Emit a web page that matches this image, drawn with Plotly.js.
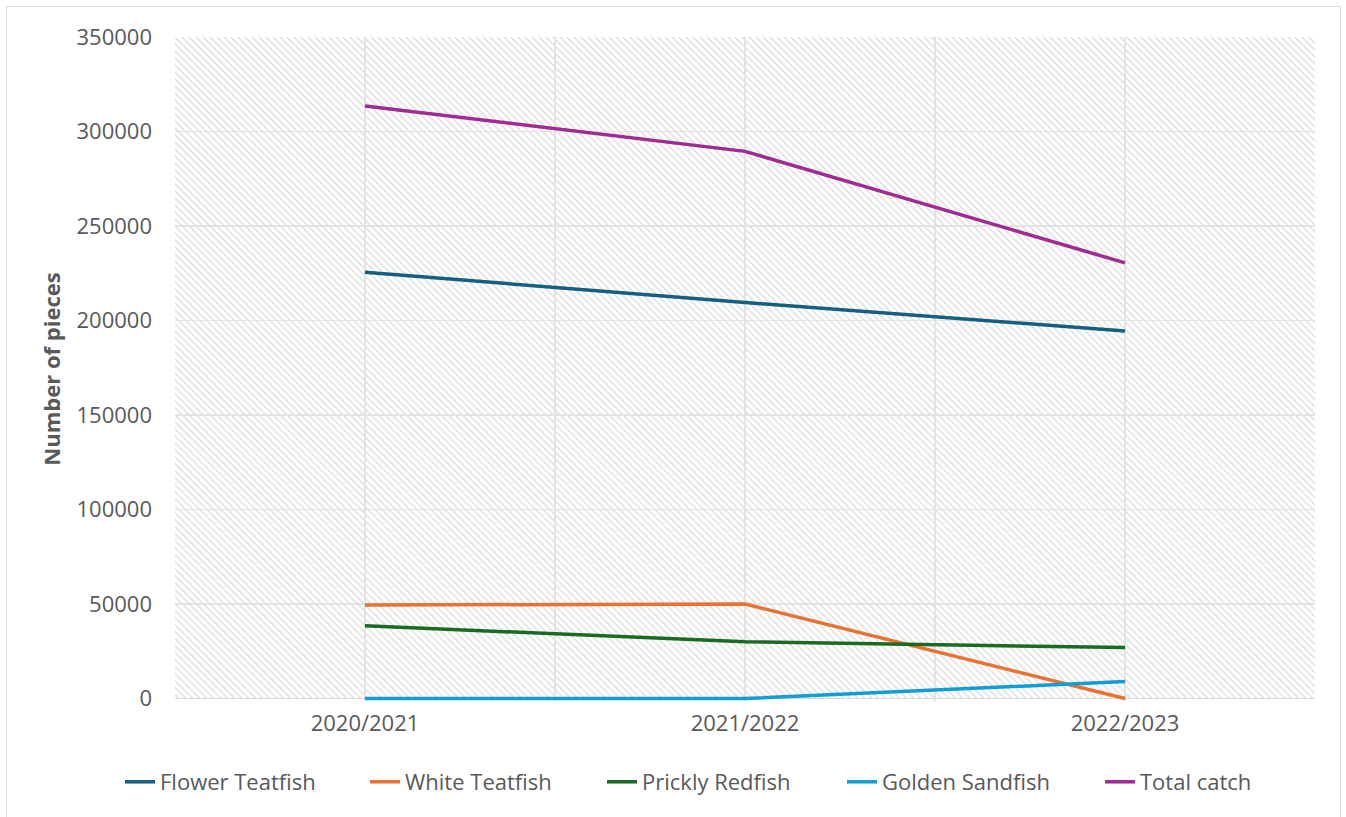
<!DOCTYPE html>
<html>
<head>
<meta charset="utf-8">
<script src="https://cdn.plot.ly/plotly-3.0.1.min.js"></script>
<style>
  html, body { margin: 0; padding: 0; background: #ffffff; overflow: hidden; }
  #chart { position: absolute; left: 0; top: 0; width: 1346px; height: 817px; }
  #frame { position: absolute; left: 6px; top: 6px; width: 1335px; height: 830px;
           border: 1.5px solid #d9d9d9; pointer-events: none; box-sizing: border-box; }
</style>
</head>
<body>
<div id="chart"></div>
<div id="frame"></div>
<script>
// ---- data ----
const seasons = ["2020/2021", "2021/2022", "2022/2023"];
const flowerTeatfish = [225500, 209500, 194500];
const whiteTeatfish  = [49500, 50000, 0];
const pricklyRedfish = [38500, 30000, 27000];
const goldenSandfish = [0, 0, 9000];
const totalCatch     = [313500, 289500, 230500];
const yTickVals = [0, 50000, 100000, 150000, 200000, 250000, 300000, 350000];

const seriesNames  = ["Flower Teatfish", "White Teatfish", "Prickly Redfish", "Golden Sandfish", "Total catch"];
const seriesValues = [flowerTeatfish, whiteTeatfish, pricklyRedfish, goldenSandfish, totalCatch];
const seriesColors = ["#156082", "#E97132", "#196B24", "#0F9ED5", "#A02B93"];

// legend entry positions (left edge of each entry, px in the page)
const legendLeftPx = [120, 365, 602, 842, 1100];

const xIdx = seasons.map((s, i) => i);
const legendIds = seriesNames.map((n, k) => (k === 0 ? "legend" : "legend" + (k + 1)));
const yMax = yTickVals[yTickVals.length - 1];

const traces = seriesNames.map((name, k) => ({
  type: "scatter",
  mode: "lines",
  name: name,
  x: xIdx,
  y: seriesValues[k],
  legend: legendIds[k],
  cliponaxis: false,
  line: { color: seriesColors[k], width: 3.5 },
  hoverinfo: "x+y+name"
}));

// hatched background pattern for the plot area
const W = 1140, H = 662;
const svg = `<svg xmlns="http://www.w3.org/2000/svg" width="${W}" height="${H}" viewBox="0 0 ${W} ${H}" preserveAspectRatio="none">
<defs><pattern id="p" width="7" height="7" patternUnits="userSpaceOnUse">
<path d="M-1,-1 L8,8 M-1,6 L1,8 M6,-1 L8,1" stroke="#dddddd" stroke-width="1.4"/></pattern></defs>
<rect x="0" y="0" width="${W}" height="${H}" fill="#ffffff"/>
<rect x="0" y="0" width="${W}" height="${H}" fill="url(#p)"/></svg>`;
const bgImg = "data:image/svg+xml;base64," + btoa(svg);

const font = "'Open Sans', 'Liberation Sans', sans-serif";
const fs = 22;

const layout = {
  width: 1346,
  height: 817,
  margin: { l: 175, r: 31, t: 37, b: 116, autoexpand: false },
  paper_bgcolor: "rgba(0,0,0,0)",
  plot_bgcolor: "rgba(0,0,0,0)",
  font: { family: font, size: fs, color: "#595959" },
  showlegend: true,
  xaxis: {
    type: "linear",
    range: [-0.5, 2.5],
    tickvals: xIdx,
    ticktext: seasons,
    showgrid: true,
    gridcolor: "#e3e3e3",
    gridwidth: 1.3,
    minor: { dtick: 0.5, tick0: 0.5, showgrid: true, gridcolor: "#e3e3e3", gridwidth: 1.3 },
    zeroline: false,
    showline: false,
    ticks: "",
    ticklabelstandoff: 7,
    tickfont: { family: font, size: fs, color: "#595959" },
    fixedrange: true
  },
  yaxis: {
    range: [-1300, yMax],
    tickvals: yTickVals,
    ticktext: yTickVals.map(v => String(v)),
    showgrid: true,
    gridcolor: "#e3e3e3",
    gridwidth: 1.3,
    zeroline: true,
    zerolinecolor: "#d9d9d9",
    zerolinewidth: 1.5,
    showline: false,
    ticks: "",
    ticklabelstandoff: 22,
    tickfont: { family: font, size: fs, color: "#595959" },
    title: { text: "<b>Number of pieces</b>", font: { family: font, size: fs, color: "#595959" }, standoff: 9 },
    fixedrange: true
  },
  images: [{
    source: bgImg,
    xref: "paper", yref: "y",
    x: 0, y: yMax, sizex: 1, sizey: yMax,
    xanchor: "left", yanchor: "top",
    sizing: "stretch",
    layer: "below"
  }]
};

legendIds.forEach((id, k) => {
  layout[id] = {
    orientation: "h",
    xref: "container", yref: "container",
    x: legendLeftPx[k] / 1346, xanchor: "left",
    y: 35 / 817, yanchor: "middle",
    font: { family: font, size: fs, color: "#595959" },
    bgcolor: "rgba(0,0,0,0)",
    itemwidth: 30
  };
});

Plotly.newPlot("chart", traces, layout, { displayModeBar: false, staticPlot: true });
</script>
</body>
</html>
